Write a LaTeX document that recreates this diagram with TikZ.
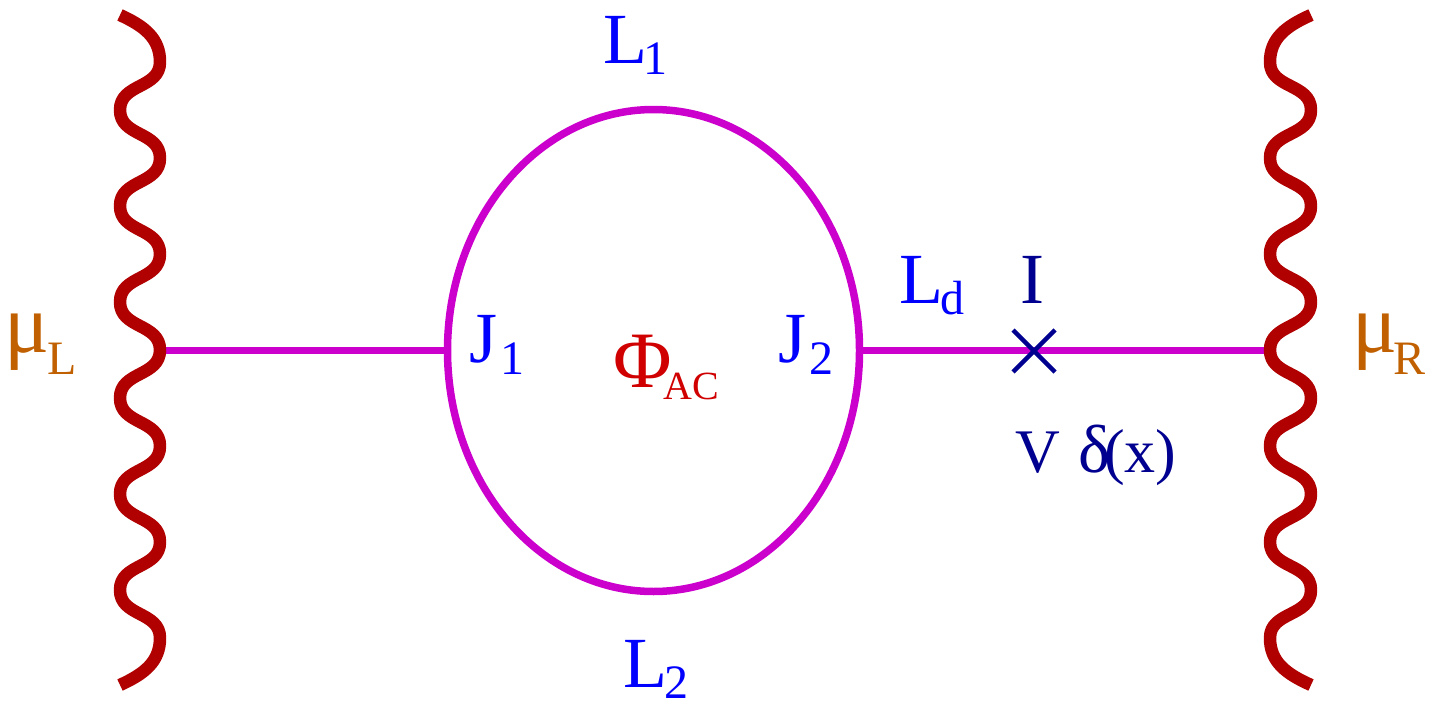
\documentclass[tikz,border=0pt]{standalone}
\usepackage{fontspec}
\setmainfont{Liberation Serif}
\usetikzlibrary{shapes.geometric}
\definecolor{wavered}{HTML}{B00000}
\definecolor{wiremag}{HTML}{CC00CC}
\definecolor{muorange}{HTML}{C06000}
\definecolor{labblue}{HTML}{0000FF}
\definecolor{labnavy}{HTML}{000090}
\definecolor{phired}{HTML}{D00000}
\newcommand{\bigtxt}{\fontsize{72}{72}\selectfont}
\newcommand{\sz}[1]{\fontsize{#1}{#1}\selectfont}
\newcommand{\subtxt}[2]{\raisebox{#1}{\fontsize{48}{48}\selectfont #2}}
\tikzset{
  x=1pt,y=-1pt,
  lab/.style={anchor=base west,inner sep=0pt,outer sep=0pt,font=\bigtxt},
  wavepath/.style={draw=wavered,line width=12.5pt,line cap=butt,line join=round},
  wire/.style={draw=wiremag,line width=7.5pt},
  crossmark/.style={draw=labnavy,line width=4.5pt}
}
\newcommand{\wavecurve}[2]{% #1 = x of the extremum on the ends' side, #2 = other extremum x
  (#1,15) .. controls ({#1+0.6*(#2-#1)},26) and (#2,38) .. (#2,62)
  .. controls (#2,89) and (#1,83) .. (#1,110)
  .. controls (#1,137) and (#2,131) .. (#2,158)
  .. controls (#2,185) and (#1,179) .. (#1,206)
  .. controls (#1,233) and (#2,227) .. (#2,254)
  .. controls (#2,281) and (#1,275) .. (#1,302)
  .. controls (#1,329) and (#2,323) .. (#2,350)
  .. controls (#2,377) and (#1,371) .. (#1,398)
  .. controls (#1,425) and (#2,419) .. (#2,446)
  .. controls (#2,473) and (#1,467) .. (#1,494)
  .. controls (#1,521) and (#2,515) .. (#2,542)
  .. controls (#2,569) and (#1,563) .. (#1,590)
  .. controls (#1,617) and (#2,611) .. (#2,638)
  .. controls (#2,662) and ({#1+0.6*(#2-#1)},674) .. (#1,685)}
\begin{document}
\begin{tikzpicture}
\useasboundingbox (0,0) rectangle (1446,704);
\coordinate (wl) at (160,350.5);
\coordinate (wr) at (1270,350.5);
\coordinate (xc) at (1033,350.5);
\coordinate (xa) at (1013,330);
\coordinate (xb) at (1055,372);
\coordinate (xd) at (1013,372);
\coordinate (xe) at (1055,330);
\node[ellipse,draw=wiremag,line width=7.5pt,inner sep=0pt,outer sep=0pt,minimum width=412pt,minimum height=482pt] (loop) at (653.5,350.5) {};
\draw[wire] (wl) -- (loop.west);
\draw[wire] (loop.east) -- (xc) -- (wr);
\draw[wavepath] \wavecurve{120}{160};
\draw[wavepath] \wavecurve{1311}{1270};
\draw[crossmark] (xa) -- (xb);
\draw[crossmark] (xd) -- (xe);
\node[lab,text=labblue] (l1) at (603,63) {L\hspace{-3pt}\subtxt{-11pt}{1}};
\node[lab,text=labblue] (l2) at (623,687) {L\hspace{-2pt}\smash{\subtxt{-11pt}{2}}};
\node[lab,text=labblue] (ld) at (899,303) {L\hspace{-2pt}\subtxt{-11pt}{d}};
\node[lab,text=labblue] (j1) at (469,362) {J\hspace{3pt}\subtxt{-12pt}{1}};
\node[lab,text=labblue] (j2) at (778,362) {J\hspace{3pt}\subtxt{-12pt}{2}};
\node[lab,text=labnavy] (ii) at (1020,303) {I};
\node[lab,text=labnavy] (vv) at (1015,472) {\sz{62}V};
\node[lab,text=labnavy] (dx) at (1078,472) {\sz{68}δ\hspace{-6pt}\sz{62}(x)};
\node[lab,text=phired] (phi) at (613,387) {\sz{80}Φ\hspace{-8pt}\raisebox{-12pt}{\sz{40}AC}};
\node[lab,text=muorange] (ml) at (5,352) {\sz{84}μ\hspace{-3pt}\raisebox{-22pt}{\sz{48}L}};
\node[lab,text=muorange] (mr) at (1352,352) {\sz{84}μ\hspace{-4pt}\raisebox{-22pt}{\sz{48}R}};
\end{tikzpicture}
\end{document}
